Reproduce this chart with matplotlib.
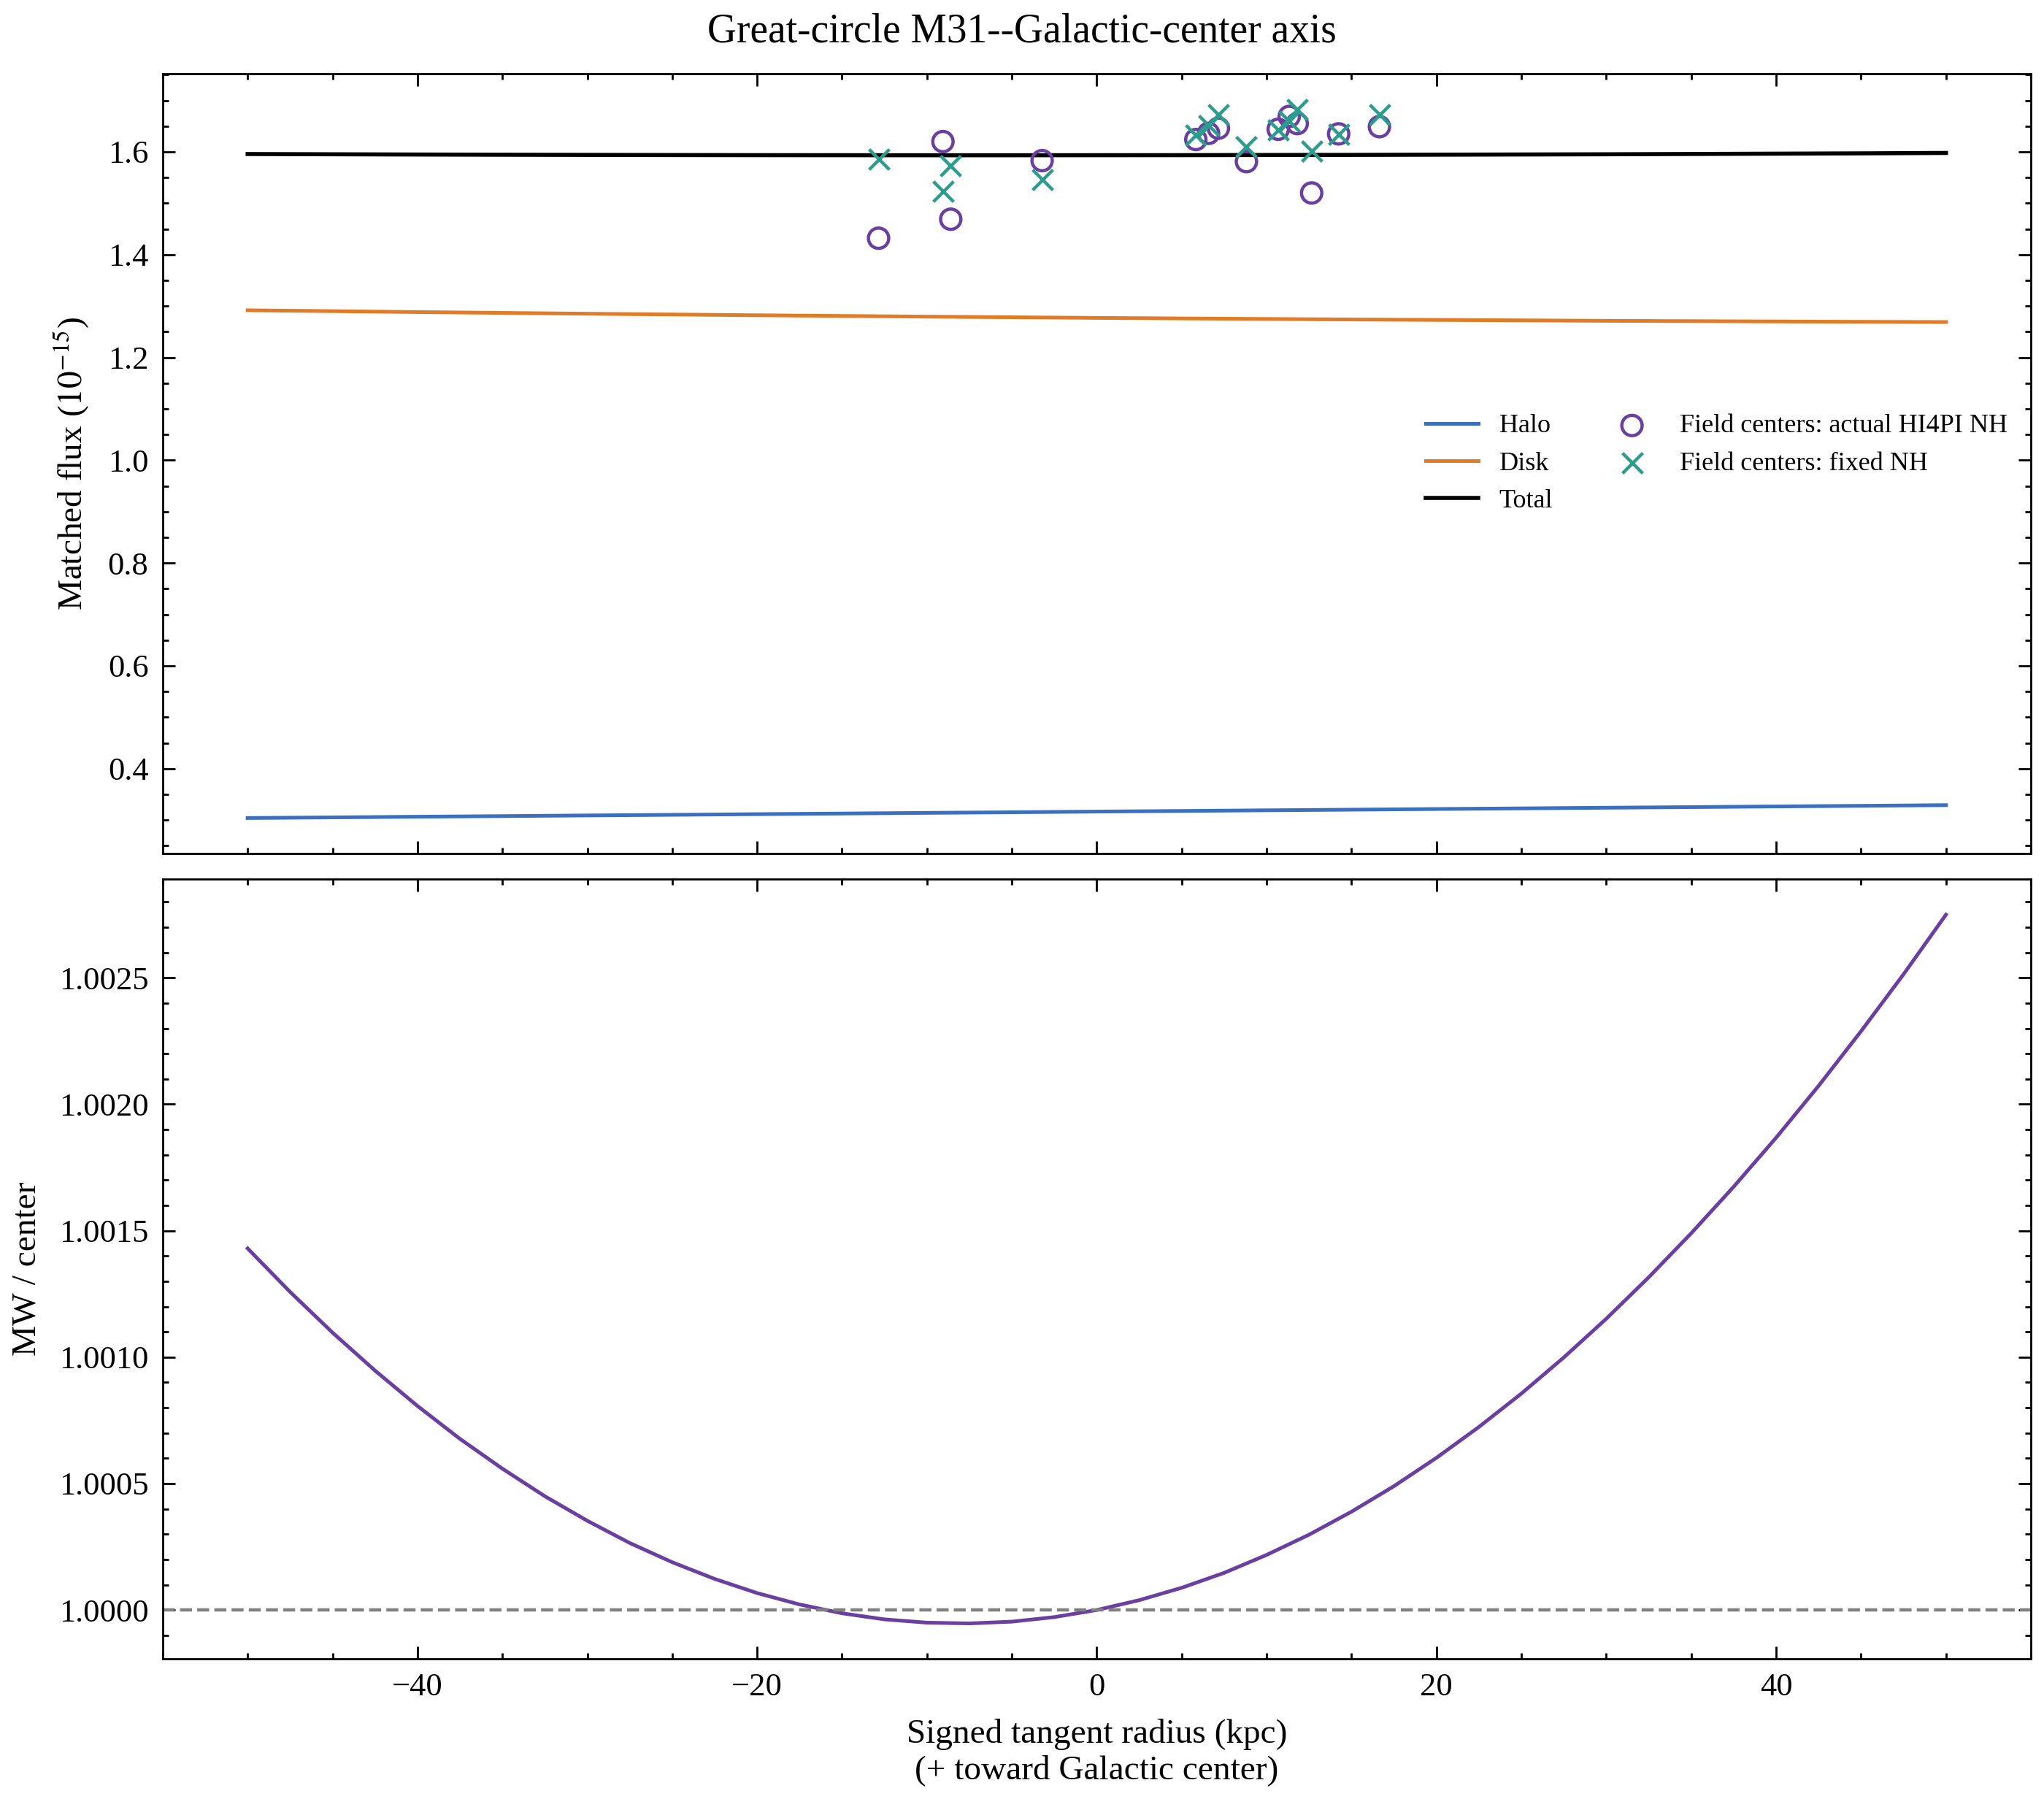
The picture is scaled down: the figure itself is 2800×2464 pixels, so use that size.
import matplotlib
matplotlib.use("Agg")
import matplotlib.pyplot as plt
from matplotlib.ticker import AutoMinorLocator

plt.rcParams['font.family'] = ['Liberation Serif', 'DejaVu Serif']
plt.rcParams['mathtext.fontset'] = 'stix'
plt.rcParams['font.size'] = 8
plt.rcParams['axes.labelsize'] = 8.5
plt.rcParams['axes.linewidth'] = 0.5
for ax_name in ('xtick', 'ytick'):
    plt.rcParams[ax_name + '.direction'] = 'in'
    plt.rcParams[ax_name + '.major.size'] = 3
    plt.rcParams[ax_name + '.minor.size'] = 1.5
    plt.rcParams[ax_name + '.major.width'] = 0.5
    plt.rcParams[ax_name + '.minor.width'] = 0.5
    plt.rcParams[ax_name + '.minor.visible'] = True
plt.rcParams['xtick.top'] = True
plt.rcParams['ytick.right'] = True

# model flux components along the great circle (signed tangent radius, kpc)
radius = [-50, -45, -40, -35, -30, -25, -20, -15, -10, -5, 0,
          5, 10, 15, 20, 25, 30, 35, 40, 45, 50]
halo = [0.3040, 0.3052, 0.3065, 0.3077, 0.3090, 0.3102, 0.3115, 0.3127, 0.3140, 0.3152, 0.3165,
        0.3177, 0.3190, 0.3202, 0.3215, 0.3227, 0.3240, 0.3252, 0.3265, 0.3277, 0.3290]
disk = [1.2918, 1.2901, 1.2883, 1.2867, 1.2851, 1.2836, 1.2821, 1.2808, 1.2794, 1.2782, 1.2770,
        1.2759, 1.2749, 1.2739, 1.2730, 1.2722, 1.2713, 1.2707, 1.2700, 1.2694, 1.2689]
total = [1.5958, 1.5953, 1.5948, 1.5944, 1.5941, 1.5938, 1.5936, 1.5935, 1.5934, 1.5934, 1.5935,
         1.5936, 1.5939, 1.5941, 1.5945, 1.5949, 1.5953, 1.5959, 1.5965, 1.5971, 1.5979]

# MW / center ratio, sampled finer
ratio_r = [-50, -47.5, -45, -42.5, -40, -37.5, -35, -32.5, -30, -27.5, -25, -22.5, -20, -17.5,
           -15, -12.5, -10, -7.5, -5, -2.5, 0, 2.5, 5, 7.5, 10, 12.5, 15, 17.5, 20, 22.5,
           25, 27.5, 30, 32.5, 35, 37.5, 40, 42.5, 45, 47.5, 50]
ratio = [1.001430, 1.001258, 1.001097, 1.000947, 1.000807, 1.000677, 1.000559, 1.000450,
         1.000353, 1.000265, 1.000189, 1.000123, 1.000067, 1.000022, 0.999987, 0.999963,
         0.999950, 0.999947, 0.999954, 0.999972, 1.000000, 1.000039, 1.000088, 1.000147,
         1.000218, 1.000298, 1.000389, 1.000490, 1.000602, 1.000724, 1.000856, 1.000999,
         1.001152, 1.001316, 1.001490, 1.001674, 1.001868, 1.002073, 1.002289, 1.002514,
         1.002750]

# field centers
field_r = [-12.85, -9.06, -8.60, -3.22, 5.83, 6.58, 7.16, 8.81, 10.68, 11.33, 11.80, 12.65, 14.24, 16.64]
field_actual = [1.432, 1.620, 1.469, 1.583, 1.624, 1.636, 1.646, 1.581, 1.644, 1.669, 1.655, 1.520, 1.635, 1.649]
field_fixed = [1.586, 1.523, 1.573, 1.546, 1.632, 1.651, 1.672, 1.610, 1.643, 1.660, 1.683, 1.601, 1.634, 1.672]

HALO_C = '#3B6FBF'
DISK_C = '#E07B28'
PURPLE = '#6B3FA0'
TEAL = '#2A9D8F'

fig, (ax1, ax2) = plt.subplots(2, 1, figsize=(7, 6.16), sharex=True)
fig.subplots_adjust(left=0.0796, right=0.9936, bottom=0.0779, top=0.959, hspace=0.033)

ax1.plot(radius, halo, color=HALO_C, lw=0.9, label='Halo')
ax1.plot(radius, disk, color=DISK_C, lw=0.9, label='Disk')
ax1.plot(radius, total, color='black', lw=1.0, label='Total')
ax1.scatter(field_r, field_actual, s=25, facecolors='none', edgecolors=PURPLE,
            linewidths=0.8, label='Field centers: actual HI4PI NH', zorder=3)
ax1.scatter(field_r, field_fixed, s=25, marker='x', color=TEAL,
            linewidths=0.8, label='Field centers: fixed NH', zorder=4)
ax1.set_ylabel('Matched flux ($10^{-15}$)')
ax1.legend(loc='center right', ncol=2, frameon=False, fontsize=6.5)

ax2.plot(ratio_r, ratio, color=PURPLE, lw=0.9)
ax2.axhline(1.0, color='gray', ls='--', lw=0.8)
ax2.set_ylabel('MW / center')
ax2.set_xlabel('Signed tangent radius (kpc)\n(+ toward Galactic center)')
ax2.ticklabel_format(axis='y', useOffset=False)

for ax in (ax1, ax2):
    ax.xaxis.set_minor_locator(AutoMinorLocator())
    ax.yaxis.set_minor_locator(AutoMinorLocator())

fig.suptitle('Great-circle M31--Galactic-center axis', fontsize=10, y=0.993)

fig.savefig('out.png', dpi=400)
